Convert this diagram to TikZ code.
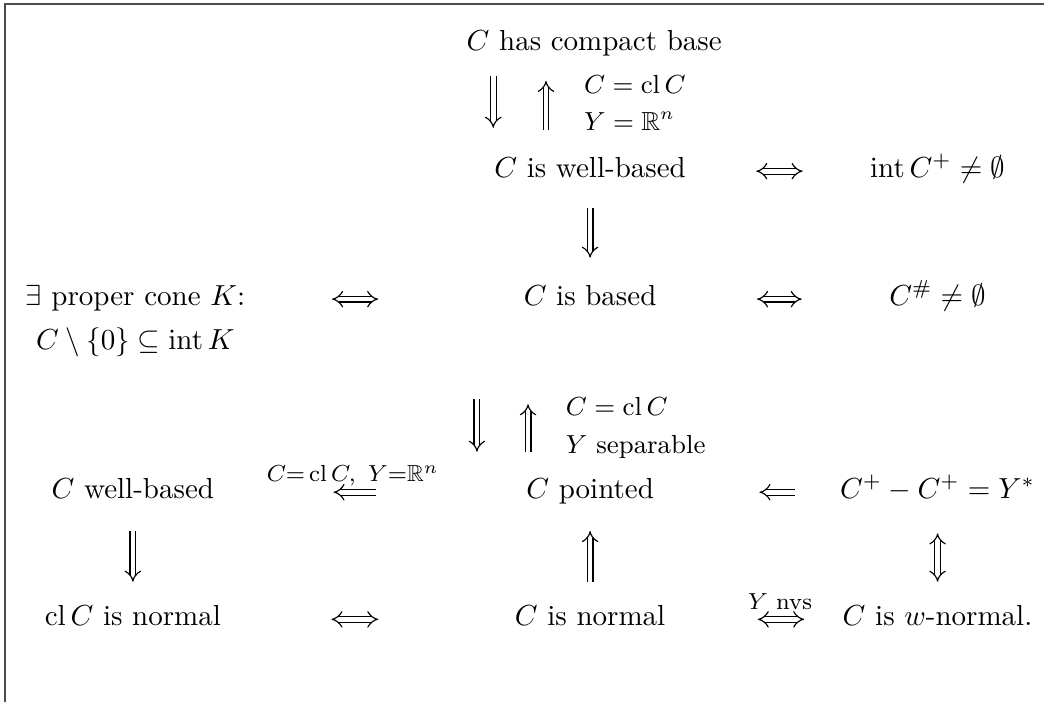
\documentclass[tikz,border=0pt]{standalone}
\usepackage{amsmath}
\usepackage{amssymb}
\usepackage{tikz}
\usetikzlibrary{
	arrows.meta,
	positioning
}

\tikzset{
	stmt/.style={anchor=base, inner sep=0pt},
	cond/.style={anchor=base west, inner sep=0pt, font=\small},
	imp/.style={double, double distance=1.6pt, -Implies},
	iff/.style={double, double distance=1.6pt, Implies-Implies}
}

\begin{document}
\begin{tikzpicture}
			\useasboundingbox (0,0) rectangle (12.65,-8.51);
			\draw[black!70, line width=0.6pt] (0.06,-8.51) -- (0.06,-0.05) -- (12.65,-0.05);
			% statements
			\node[stmt] (ch) at (7.20,-0.61) {$C$ has compact base};
			\node[stmt] (wb) at (7.15,-2.15) {$C$ is well-based};
			\node[stmt] (ip) at (11.36,-2.15) {$\operatorname{int} C^+ \neq \emptyset$};
			\node[align=center, anchor=north, inner sep=0pt] (ex) at (1.64,-3.45) {$\exists$ proper cone $K$:\\[3.2pt] $C \setminus \{0\} \subseteq \operatorname{int} K$};
			\node[stmt] (cb) at (7.15,-3.70) {$C$ is based};
			\node[stmt] (cs) at (11.36,-3.70) {$C^{\#} \neq \emptyset$};
			\node[stmt] (cw) at (1.61,-6.04) {$C$ well-based};
			\node[stmt] (cp) at (7.15,-6.04) {$C$ pointed};
			\node[stmt] (cd) at (11.36,-6.04) {$C^+ - C^+ = Y^*$};
			\node[stmt] (cn) at (1.61,-7.58) {$\operatorname{cl} C$ is normal};
			\node[stmt] (nm) at (7.15,-7.58) {$C$ is normal};
			\node[stmt] (wn) at (11.36,-7.58) {$C$ is $w$-normal.};
			% side conditions
			\node[cond] (lt1) at (7.07,-1.13) {$C = \operatorname{cl} C$};
			\node[cond] (lt2) at (7.07,-1.58) {$Y = \mathbb{R}^n$};
			\node[cond] (lm1) at (6.85,-5.03) {$C = \operatorname{cl} C$};
			\node[cond] (lm2) at (6.85,-5.49) {$Y$ separable};
			% implications
			\draw[imp, shorten <=6.7pt, shorten >=10pt] ([xshift=-33.4pt]wb.north |- ch.south) -- ([xshift=-33.4pt]wb.north);
			\draw[imp, shorten <=9.3pt, shorten >=8.4pt] ([xshift=-15.2pt]wb.north) -- ([xshift=-15.2pt]wb.north |- ch.south);
			\draw[iff, shorten <=24.1pt, shorten >=23.1pt] (wb.mid east) -- (ip.mid west);
			\draw[imp, shorten <=10.3pt, shorten >=9.3pt] (wb.south) -- (cb.north);
			\draw[iff, shorten <=29.8pt, shorten >=50pt] (ex.east |- cb.mid) -- (cb.mid west);
			\draw[iff, shorten <=34.5pt, shorten >=30pt] (cb.mid east) -- (cs.mid west);
			\draw[imp, shorten <=32pt, shorten >=9pt] ([xshift=-39pt]cb.south) -- ([xshift=-39pt]cp.north);
			\draw[imp, shorten <=9pt, shorten >=33.8pt] ([xshift=-21.4pt]cp.north) -- ([xshift=-21.4pt]cb.south);
			\draw[imp, shorten <=51.7pt, shorten >=41pt] (cp.mid west) -- node[pos=0.556, above=1.8pt, inner sep=0pt, font=\footnotesize] (lc) {$C{=}\operatorname{cl}C,\ Y{=}\mathbb{R}^n$} (cw.mid east);
			\draw[imp, shorten <=15.5pt, shorten >=36.2pt] (cd.mid west) -- (cp.mid east);
			\draw[imp, shorten <=11pt, shorten >=8pt] (cw.south) -- (cn.north);
			\draw[imp, shorten <=8pt, shorten >=9.1pt] (nm.north) -- (cp.south);
			\draw[iff, shorten <=11pt, shorten >=8pt] (cd.south) -- (wn.north);
			\draw[iff, shorten <=37.9pt, shorten >=46.9pt] (cn.mid east) -- (nm.mid west);
			\draw[iff, shorten <=31.7pt, shorten >=13.1pt] (nm.mid east) -- node[pos=0.648, above=3pt, inner sep=0pt, font=\footnotesize] (ln) {$Y$ nvs} (wn.mid west);
		\end{tikzpicture}
\end{document}
